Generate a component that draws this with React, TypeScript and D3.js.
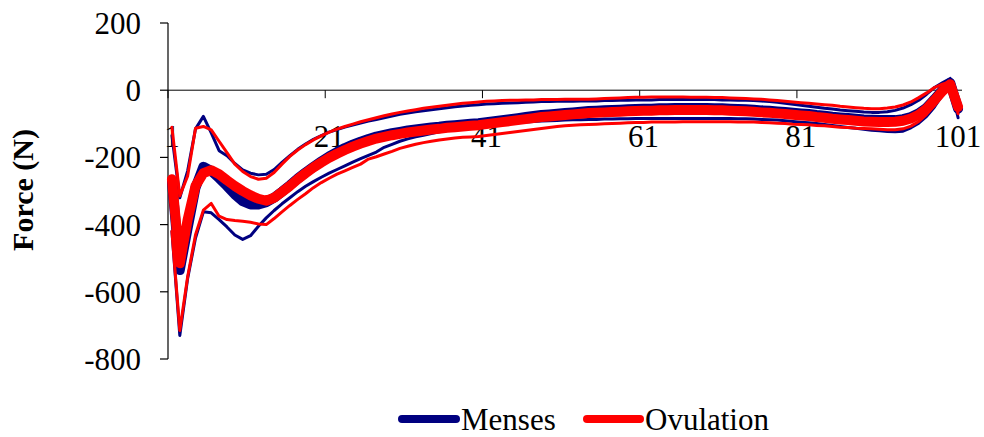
import { useMemo } from 'react'
import * as d3 from 'd3'

// Force curves, 101 points each (1..101 % of stance)
const categories = d3.range(1, 102)
const xTickLabels = [1, 21, 41, 61, 81, 101]
const yTicks = [200, 0, -200, -400, -600, -800]

const ovulationMean = [
  -265, -515, -385, -285, -247, -238, -250, -268, -285, -300,
  -313, -323, -329, -320, -303, -285, -265, -247, -230, -215,
  -201, -189, -178, -168, -159, -151, -144, -139, -134, -130,
  -126, -123, -120, -117, -115, -112, -110, -108, -106, -104,
  -101, -98, -95, -92, -89, -86, -83, -80, -78, -76,
  -74, -72, -70, -68, -67, -66, -65, -64, -63, -62,
  -61, -61, -60, -60, -59, -59, -59, -59, -59, -60,
  -60, -61, -62, -63, -64, -66, -67, -69, -71, -73,
  -75, -77, -80, -82, -85, -87, -89, -91, -93, -94,
  -95, -95, -94, -91, -84, -73, -55, -30, -3, 18,
  -50,
]
const ovulationUpper = [
  -110, -315, -255, -113, -108, -118, -152, -186, -220, -242,
  -257, -265, -262, -245, -220, -197, -178, -162, -148, -136,
  -125, -116, -108, -101, -94, -88, -82, -76, -71, -66,
  -62, -58, -54, -51, -48, -45, -42, -39, -37, -35,
  -33, -32, -31, -30, -30, -29, -29, -28, -28, -28,
  -27, -27, -27, -27, -26, -25, -24, -23, -22, -21,
  -21, -20, -20, -20, -20, -20, -21, -21, -21, -22,
  -22, -23, -24, -25, -26, -27, -29, -31, -33, -35,
  -37, -39, -41, -43, -45, -48, -50, -52, -54, -55,
  -55, -53, -50, -44, -35, -22, -8, 8, 18, 25,
  -40,
]
const ovulationLower = [
  -420, -715, -555, -430, -357, -337, -375, -385, -388, -390,
  -393, -398, -400, -382, -362, -343, -325, -308, -290, -275,
  -262, -250, -240, -230, -220, -205, -198, -190, -182, -173,
  -167, -161, -156, -152, -148, -145, -142, -140, -139, -138,
  -135, -132, -129, -126, -123, -120, -117, -114, -111, -108,
  -106, -104, -103, -102, -101, -100, -99, -98, -97, -96,
  -96, -95, -95, -95, -95, -94, -94, -94, -94, -94,
  -94, -94, -95, -95, -95, -96, -97, -98, -99, -101,
  -102, -103, -105, -106, -108, -110, -111, -113, -114, -115,
  -116, -118, -118, -115, -107, -93, -72, -45, -12, 15,
  -70,
]
const mensesMean = [
  -270, -535, -410, -290, -228, -240, -262, -285, -310, -330,
  -340, -340, -333, -320, -302, -283, -263, -245, -228, -212,
  -197, -184, -172, -162, -153, -145, -138, -133, -128, -124,
  -120, -117, -114, -111, -109, -106, -104, -102, -100, -98,
  -95, -92, -89, -86, -83, -80, -77, -74, -72, -70,
  -68, -66, -64, -62, -61, -60, -59, -58, -57, -56,
  -55, -55, -54, -54, -53, -53, -53, -53, -53, -54,
  -54, -55, -56, -57, -58, -60, -61, -63, -65, -67,
  -69, -71, -74, -76, -79, -81, -83, -85, -87, -88,
  -89, -89, -89, -86, -80, -69, -52, -27, 0, 22,
  -55,
]
const mensesUpper = [
  -135, -320, -240, -115, -78, -127, -180, -195, -218, -237,
  -247, -252, -250, -236, -215, -195, -176, -160, -146, -135,
  -125, -117, -110, -104, -98, -92, -87, -82, -77, -72,
  -68, -64, -61, -58, -55, -52, -49, -47, -45, -43,
  -41, -40, -39, -38, -37, -36, -35, -34, -34, -33,
  -33, -33, -32, -32, -32, -31, -31, -30, -30, -29,
  -29, -29, -28, -28, -28, -28, -28, -28, -28, -28,
  -29, -29, -30, -30, -31, -32, -34, -36, -39, -42,
  -45, -48, -51, -54, -56, -59, -61, -63, -65, -66,
  -66, -64, -60, -53, -43, -30, -12, 8, 22, 35,
  -30,
]
const mensesLower = [
  -420, -730, -560, -440, -362, -365, -385, -407, -431, -444,
  -433, -405, -380, -358, -338, -320, -302, -286, -272, -259,
  -247, -236, -225, -214, -204, -194, -184, -170, -161, -152,
  -145, -139, -134, -129, -124, -120, -116, -113, -110, -107,
  -105, -103, -101, -99, -97, -95, -93, -92, -91, -90,
  -89, -88, -88, -87, -87, -86, -86, -85, -85, -84,
  -84, -84, -84, -84, -84, -84, -84, -84, -84, -84,
  -84, -84, -85, -85, -86, -87, -88, -89, -91, -93,
  -95, -97, -99, -102, -105, -108, -111, -113, -116, -119,
  -121, -123, -124, -122, -112, -98, -78, -50, -15, 18,
  -82,
]

const NAVY = '#000080'
const RED = '#ff0000'
const FONT = '"Liberation Serif", "Times New Roman", serif'

const WIDTH = 984
const HEIGHT = 437

export default function App() {
  const x = useMemo(
    () => d3.scaleBand<number>().domain(categories).range([168, 962]),
    []
  )
  const y = useMemo(() => d3.scaleLinear().domain([-800, 200]).range([359, 23]), [])
  const bw = x.bandwidth()
  const cx = (i: number) => (x(i) ?? 0) + bw / 2

  const line = d3
    .line<number>()
    .x((_, k) => cx(categories[k]))
    .y((d) => y(d))

  const series = [
    { data: mensesMean, color: NAVY, width: 10 },
    { data: mensesUpper, color: NAVY, width: 3 },
    { data: mensesLower, color: NAVY, width: 3 },
    { data: ovulationMean, color: RED, width: 10 },
    { data: ovulationUpper, color: RED, width: 3 },
    { data: ovulationLower, color: RED, width: 3 },
  ]

  const y0 = y(0)

  return (
    <div style={{ position: 'absolute', left: 0, top: 0 }}>
      <svg width={WIDTH} height={HEIGHT} style={{ display: 'block', background: '#fff' }}>
        {/* y axis */}
        <line x1={168} x2={168} y1={y(200)} y2={y(-800)} stroke="#000" strokeWidth={1.2} />
        {yTicks.map((t) => (
          <g key={t}>
            <line x1={160} x2={168} y1={y(t)} y2={y(t)} stroke="#000" strokeWidth={1.2} />
            <text
              x={141}
              y={y(t) + 11}
              textAnchor="end"
              fontFamily={FONT}
              fontSize={31}
              fill="#000"
            >
              {t}
            </text>
          </g>
        ))}

        {/* x axis at zero */}
        <line x1={168} x2={962} y1={y0} y2={y0} stroke="#000" strokeWidth={1} />
        {xTickLabels.map((c) => (
          <g key={c}>
            <line
              x1={x(c) ?? 0}
              x2={x(c) ?? 0}
              y1={y0}
              y2={y0 + 8}
              stroke="#000"
              strokeWidth={1}
            />
            <text
              x={cx(c)}
              y={147}
              textAnchor="middle"
              fontFamily={FONT}
              fontSize={31}
              fill="#000"
            >
              {c}
            </text>
          </g>
        ))}

        {/* curves */}
        {series.map((s, k) => (
          <path
            key={k}
            d={line(s.data) ?? ''}
            fill="none"
            stroke={s.color}
            strokeWidth={s.width}
            strokeLinejoin="round"
            strokeLinecap="round"
          />
        ))}

        {/* axis title */}
        <text
          transform="translate(33,190) rotate(-90)"
          textAnchor="middle"
          fontFamily={FONT}
          fontWeight="bold"
          fontSize={30}
          fill="#000"
        >
          Force (N)
        </text>

        {/* legend */}
        <line x1={402} x2={456} y1={419} y2={419} stroke={NAVY} strokeWidth={8} strokeLinecap="round" />
        <text x={461} y={430} fontFamily={FONT} fontSize={31} fill="#000">
          Menses
        </text>
        <line x1={587} x2={640} y1={419} y2={419} stroke={RED} strokeWidth={8} strokeLinecap="round" />
        <text x={645} y={430} fontFamily={FONT} fontSize={31} fill="#000">
          Ovulation
        </text>
      </svg>
    </div>
  )
}
